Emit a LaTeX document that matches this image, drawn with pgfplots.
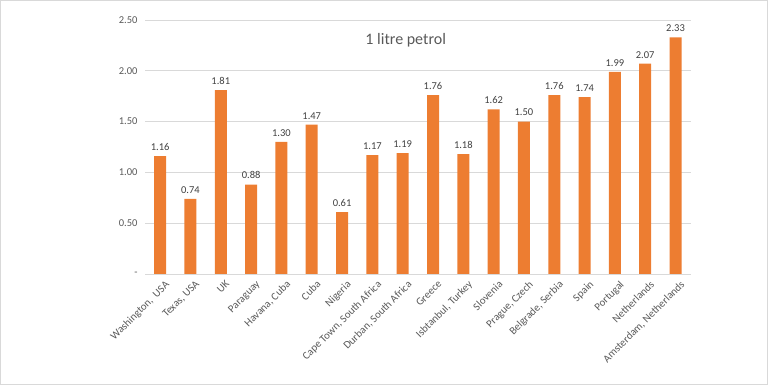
\documentclass[border=0pt]{standalone}
\usepackage{pgfplots}
\pgfplotsset{compat=1.18}
\usepackage{fontspec}
\setmainfont{Carlito}
\definecolor{barc}{HTML}{ED7D31}
\definecolor{gridc}{HTML}{D9D9D9}
\definecolor{txt}{HTML}{595959}
\definecolor{lbl}{HTML}{404040}
\begin{document}
\begin{tikzpicture}[x=1pt,y=1pt]
\useasboundingbox (0,0) rectangle (768,385);
\draw[gridc, line width=1pt] (0.5,0.5) rectangle (767.5,384.5);
\begin{axis}[
  at={(145pt,111pt)}, anchor=south west,
  scale only axis, width=545.7pt, height=254pt,
  ymin=0, ymax=2.5, xmin=-0.5, xmax=17.5,
  /pgf/number format/assume math mode=true,
  ytick={0,0.5,1,1.5,2,2.5},
  yticklabels={-,0.50,1.00,1.50,2.00,2.50},
  xtick=data,
  xticklabels={{Washington,\ \ USA},{Texas, USA},UK,Paraguay,{Havana, Cuba},Cuba,Nigeria,{Cape Town, South Africa},{Durban, South Africa},Greece,{Isbtanbul, Turkey},Slovenia,{Prague, Czech},{Belgrade, Serbia},Spain,Portugal,Netherlands,{Amsterdam, Netherlands}},
  ymajorgrids, grid style={gridc, line width=0.9pt},
  axis line style={draw=none},
  tick style={draw=none},
  yticklabel style={font=\fontsize{10.5}{12}\selectfont, text=txt, xshift=-4pt},
  xticklabel style={rotate=45, anchor=north east, font=\fontsize{10.8}{12}\selectfont, text=txt, inner sep=1pt, xshift=3pt, yshift=-3pt},
  ybar, bar width=12pt,
  nodes near coords={\pgfmathprintnumber[fixed,zerofill,precision=2,assume math mode=true]{\pgfplotspointmeta}},
  nodes near coords style={font=\fontsize{10.5}{12}\selectfont, text=lbl, anchor=south, yshift=2pt},
  clip=false,
]
\addplot[fill=barc, draw=none] coordinates {
(0,1.16) (1,0.74) (2,1.81) (3,0.88) (4,1.30) (5,1.47) (6,0.61) (7,1.17) (8,1.19)
(9,1.76) (10,1.18) (11,1.62) (12,1.50) (13,1.76) (14,1.74) (15,1.99) (16,2.07) (17,2.33)
};
\end{axis}
\node[font=\fontsize{16}{19}\selectfont, text=txt] at (405.7,345) {1 litre petrol};
\end{tikzpicture}
\end{document}
